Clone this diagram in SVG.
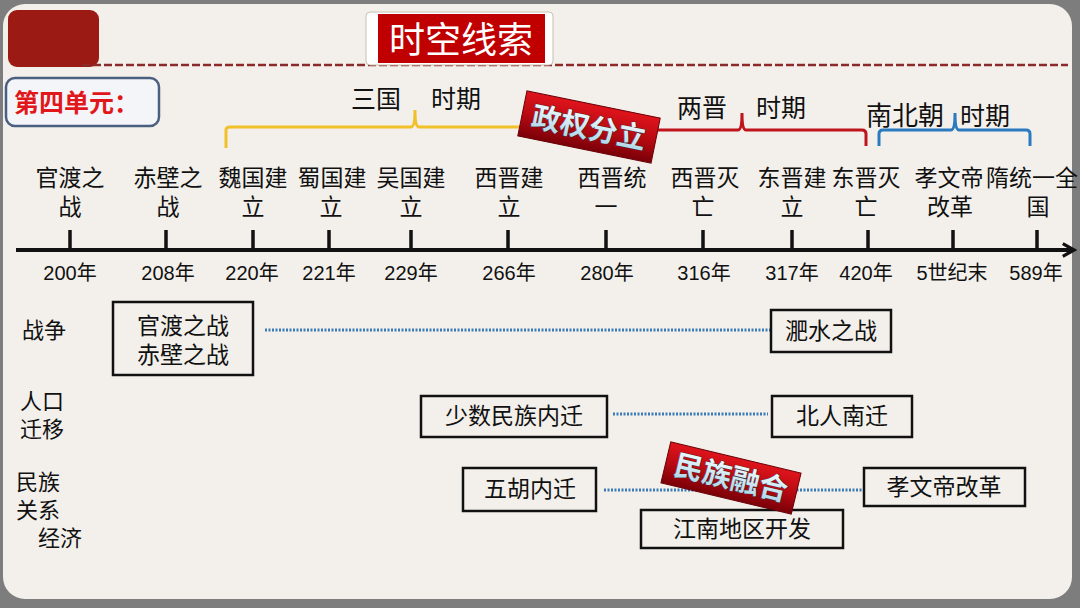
<svg xmlns="http://www.w3.org/2000/svg" width="1080" height="608" viewBox="0 0 1080 608">
<defs>
<linearGradient id="stampg" x1="0" y1="0" x2="0" y2="1">
<stop offset="0" stop-color="#e0141c"/>
<stop offset="0.5" stop-color="#b80a12"/>
<stop offset="1" stop-color="#7a0008"/>
</linearGradient>
<linearGradient id="stamptext" x1="0" y1="0" x2="0" y2="1">
<stop offset="0" stop-color="#f4fbff"/>
<stop offset="1" stop-color="#a9d3e6"/>
</linearGradient>
<marker id="arr" viewBox="0 0 10 10" refX="8" refY="5" markerWidth="4" markerHeight="4" orient="auto" markerUnits="strokeWidth">
<path d="M1,1 L8,5 L1,9" fill="none" stroke="#111" stroke-width="2"/>
</marker>
</defs>
<style>
text{font-family:"Liberation Sans","Noto Sans CJK SC",sans-serif;fill:#111}
.ev{font-size:23px;text-anchor:middle}
.yr{font-size:20px;text-anchor:middle}
.lbl{font-size:22px}
.per{font-size:25px}
.box{fill:#f3f0eb;stroke:#111;stroke-width:2.5}
.bt{font-size:23px;text-anchor:middle}
.tick{stroke:#111;stroke-width:3.5}
.dot{stroke:#3a7ab8;stroke-width:3;stroke-dasharray:2 1.5;fill:none}
.stampt{font-size:29px;font-weight:bold;fill:url(#stamptext);stroke:#2a3540;stroke-width:0.8;paint-order:stroke;text-anchor:middle}
</style>
<rect width="1080" height="608" fill="#7d7d7d"/>
<rect x="3" y="4" width="1069" height="595" rx="22" fill="#f3f0eb"/>

<g id="header">
<rect x="8" y="10" width="91" height="57" rx="9" fill="#9b1a14"/>
<line x1="82" y1="65" x2="1068" y2="65" stroke="#8b2a2a" stroke-width="2.5" stroke-dasharray="8 3"/>
<rect x="366" y="12" width="187" height="53" rx="4" fill="#fff" stroke="#c8c0b0" stroke-width="1"/>
<rect x="378" y="14" width="167" height="49" fill="#c00000"/>
<text x="461" y="53" style="font-size:36px;fill:#fff;text-anchor:middle">时空线索</text>
</g>

<g id="unit">
<rect x="6" y="78" width="153" height="48" rx="9" fill="#f4f5f8" stroke="#4a6080" stroke-width="2.5"/>
<text x="14" y="112" style="font-size:25px;font-weight:bold;fill:#e0181c">第四单元：</text>
</g>

<g id="periods">
<path d="M226,148 L226,130 Q226,127 230,127 L411,127 Q415,127 415,110 Q415,127 419,127 L530,127" fill="none" stroke="#f2c12a" stroke-width="3"/>
<text x="351" y="108" class="per">三国</text>
<text x="431" y="108" class="per">时期</text>
<path d="M645,130 L738,130 Q742,130 742,113 Q742,130 746,130 L862,130 Q866,130 866,134 L866,146" fill="none" stroke="#c0141c" stroke-width="3"/>
<text x="677" y="117" class="per">两晋</text>
<text x="756" y="117" class="per">时期</text>
<path d="M879,146 L879,134 Q879,130 883,130 L951,130 Q955,130 955,113 Q955,130 959,130 L1026,130 Q1030,130 1030,134 L1030,146" fill="none" stroke="#2a7ac0" stroke-width="3"/>
<text x="866" y="125" class="per" style="font-size:26px">南北朝</text>
<text x="960" y="125" class="per">时期</text>
</g>

<g id="stamp1" transform="translate(589,127) rotate(11.5)">
<rect x="-68" y="-23" width="136" height="46" fill="url(#stampg)" stroke="#6a0006" stroke-width="1"/>
<text x="0" y="11" class="stampt">政权分立</text>
</g>

<g id="timeline">
<line x1="16" y1="250" x2="1074" y2="250" stroke="#111" stroke-width="4" marker-end="url(#arr)"/>
<line class="tick" x1="70" y1="230" x2="70" y2="250"/>
<line class="tick" x1="166" y1="230" x2="166" y2="250"/>
<line class="tick" x1="253" y1="230" x2="253" y2="250"/>
<line class="tick" x1="329" y1="230" x2="329" y2="250"/>
<line class="tick" x1="411" y1="230" x2="411" y2="250"/>
<line class="tick" x1="508" y1="230" x2="508" y2="250"/>
<line class="tick" x1="606" y1="230" x2="606" y2="250"/>
<line class="tick" x1="703" y1="230" x2="703" y2="250"/>
<line class="tick" x1="792" y1="230" x2="792" y2="250"/>
<line class="tick" x1="868" y1="230" x2="868" y2="250"/>
<line class="tick" x1="953" y1="230" x2="953" y2="250"/>
<line class="tick" x1="1037" y1="230" x2="1037" y2="250"/>
</g>

<g id="events">
<text class="ev" x="70" y="186">官渡之<tspan x="70" dy="29">战</tspan></text>
<text class="ev" x="168" y="186">赤壁之<tspan x="168" dy="29">战</tspan></text>
<text class="ev" x="253" y="186">魏国建<tspan x="253" dy="29">立</tspan></text>
<text class="ev" x="332" y="186">蜀国建<tspan x="331" dy="29">立</tspan></text>
<text class="ev" x="411" y="186">吴国建<tspan x="411" dy="29">立</tspan></text>
<text class="ev" x="509" y="186">西晋建<tspan x="509" dy="29">立</tspan></text>
<text class="ev" x="612" y="186">西晋统<tspan x="606" dy="29">一</tspan></text>
<text class="ev" x="705" y="186">西晋灭<tspan x="703" dy="29">亡</tspan></text>
<text class="ev" x="792" y="186">东晋建<tspan x="792" dy="29">立</tspan></text>
<text class="ev" x="866" y="186">东晋灭<tspan x="866" dy="29">亡</tspan></text>
<text class="ev" x="949" y="186">孝文帝<tspan x="950" dy="29">改革</tspan></text>
<text class="ev" x="1032" y="186">隋统一全<tspan x="1038" dy="29">国</tspan></text>
</g>

<g id="years">
<text class="yr" x="70" y="280">200年</text>
<text class="yr" x="168" y="280">208年</text>
<text class="yr" x="252" y="280">220年</text>
<text class="yr" x="329" y="280">221年</text>
<text class="yr" x="411" y="280">229年</text>
<text class="yr" x="509" y="280">266年</text>
<text class="yr" x="607" y="280">280年</text>
<text class="yr" x="704" y="280">316年</text>
<text class="yr" x="792" y="280">317年</text>
<text class="yr" x="866" y="280">420年</text>
<text class="yr" x="952" y="280">5世纪末</text>
<text class="yr" x="1036" y="280">589年</text>
</g>

<g id="rowlabels">
<text class="lbl" x="22" y="338">战争</text>
<text class="lbl" x="20" y="409">人口<tspan x="20" dy="28">迁移</tspan></text>
<text class="lbl" x="16" y="490">民族<tspan x="16" dy="28">关系</tspan><tspan x="38" dy="28">经济</tspan></text>
</g>

<g id="connectors">
<line class="dot" x1="265" y1="330" x2="770" y2="330"/>
<line class="dot" x1="613" y1="414" x2="768" y2="414"/>
<line class="dot" x1="604" y1="490" x2="864" y2="490"/>
</g>

<g id="box-war1">
<rect class="box" x="113" y="302" width="140" height="73"/>
<text class="bt" x="183" y="334">官渡之战<tspan x="183" dy="29">赤壁之战</tspan></text>
</g>
<g id="box-feishui">
<rect class="box" x="771" y="310" width="120" height="42"/>
<text class="bt" x="831" y="339">淝水之战</text>
</g>
<g id="box-minority">
<rect class="box" x="421" y="396" width="186" height="41"/>
<text class="bt" x="514" y="424">少数民族内迁</text>
</g>
<g id="box-north">
<rect class="box" x="772" y="396" width="140" height="41"/>
<text class="bt" x="842" y="424">北人南迁</text>
</g>
<g id="box-wuhu">
<rect class="box" x="463" y="468" width="133" height="43"/>
<text class="bt" x="530" y="497">五胡内迁</text>
</g>
<g id="box-xiaowen">
<rect class="box" x="864" y="468" width="161" height="38"/>
<text class="bt" x="944" y="495">孝文帝改革</text>
</g>
<g id="box-jiangnan">
<rect class="box" x="641" y="510" width="202" height="38"/>
<text class="bt" x="742" y="537">江南地区开发</text>
</g>

<g id="stamp2" transform="translate(731,478) rotate(13.5)">
<rect x="-67" y="-21" width="134" height="42" fill="url(#stampg)" stroke="#6a0006" stroke-width="1"/>
<text x="0" y="10" class="stampt">民族融合</text>
</g>
</svg>
